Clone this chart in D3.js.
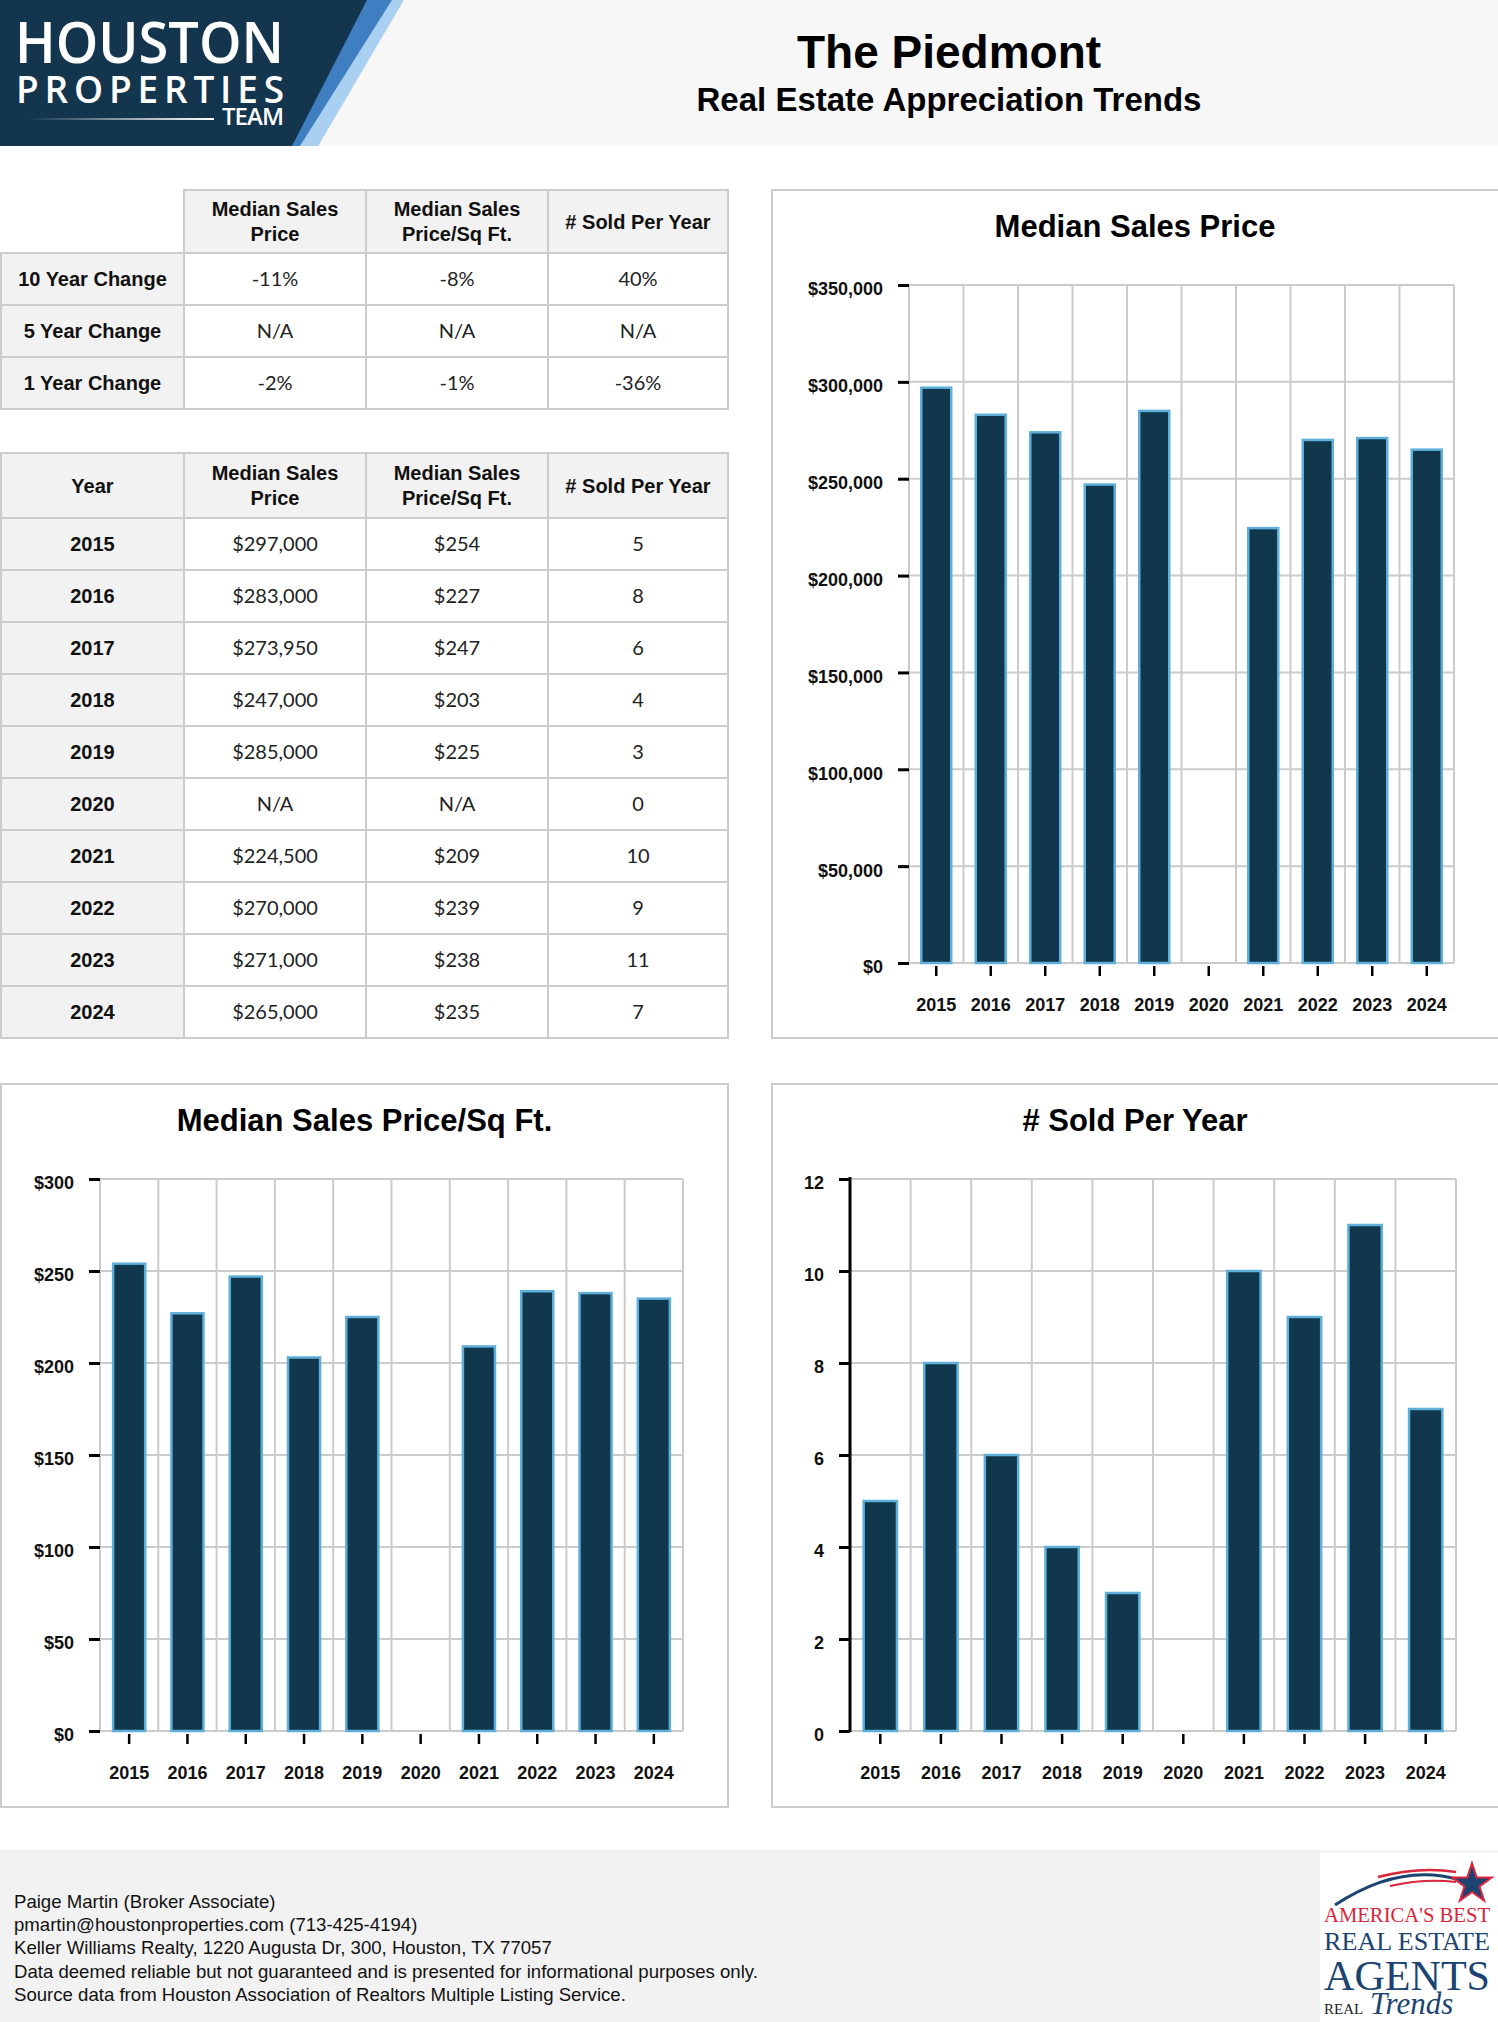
<!DOCTYPE html>
<html>
<head>
<meta charset="utf-8">
<script src="https://cdn.jsdelivr.net/npm/d3@7"></script>
<style>
  html, body { margin: 0; padding: 0; background: #fff; }
  svg { display: block; }
</style>
</head>
<body>
<svg id="page" width="1498" height="2022"></svg>
<script>
// data
const years = ["2015", "2016", "2017", "2018", "2019", "2020", "2021", "2022", "2023", "2024"];
const medianPrice = [297000, 283000, 273950, 247000, 285000, null, 224500, 270000, 271000, 265000];
const pricePerSqft = [254, 227, 247, 203, 225, null, 209, 239, 238, 235];
const soldPerYear = [5, 8, 6, 4, 3, 0, 10, 9, 11, 7];

const changeLabels = ["10 Year Change", "5 Year Change", "1 Year Change"];
const changePrice = ["-11%", "N/A", "-2%"];
const changeSqft = ["-8%", "N/A", "-1%"];
const changeSold = ["40%", "N/A", "-36%"];

const columnHeaders = [["Median Sales", "Price"], ["Median Sales", "Price/Sq Ft."], ["# Sold Per Year"]];

const footerLines = [
    "Paige Martin (Broker Associate)",
    "pmartin@houstonproperties.com (713-425-4194)",
    "Keller Williams Realty, 1220 Augusta Dr, 300, Houston, TX 77057",
    "Data deemed reliable but not guaranteed and is presented for informational purposes only.",
    "Source data from Houston Association of Realtors Multiple Listing Service."
];

const SANS = "'Liberation Sans', Arial, Helvetica, sans-serif";
const LATO = "Lato, 'Liberation Sans', sans-serif";
const SERIF = "'Liberation Serif', 'DejaVu Serif', serif";
const NAVY = "#11374d";
const BAR_EDGE = "#5eb0da";
const GRID = "#cbcbcb";

const svg = d3.select("#page");

// ---------- header band ----------
svg.append("rect").attr("x", 0).attr("y", 0).attr("width", 1498).attr("height", 146).attr("fill", "#f7f7f7");

// logo block with the two diagonal stripes
svg.append("polygon").attr("points", "0,0 404,0 318,146 0,146").attr("fill", "#a9d0f0");
svg.append("polygon").attr("points", "0,0 392,0 300,146 0,146").attr("fill", "#3f7fc1");
svg.append("polygon").attr("points", "0,0 367,0 292,146 0,146").attr("fill", "#13354d");
svg.append("polygon").attr("points", "300,146 318,146 352,88 340,90").attr("fill", "#a9d0f0");

let logo = svg.append("g").attr("fill", "#fff").attr("font-family", "'Open Sans', Lato, sans-serif");
logo.append("text").attr("x", 15).attr("y", 63).attr("font-size", 57).attr("font-weight", 600)
    .attr("textLength", 269).attr("lengthAdjust", "spacingAndGlyphs").text("HOUSTON");
logo.append("text").attr("x", 16).attr("y", 103).attr("font-size", 37).attr("font-weight", 600)
    .attr("textLength", 268).attr("lengthAdjust", "spacing").text("PROPERTIES");
logo.append("text").attr("x", 222).attr("y", 125).attr("font-size", 24).attr("font-weight", 600)
    .attr("textLength", 62).attr("lengthAdjust", "spacing").text("TEAM");

let grad = svg.append("defs").append("linearGradient").attr("id", "fadeLine");
grad.append("stop").attr("offset", "0%").attr("stop-color", "#fff").attr("stop-opacity", 0);
grad.append("stop").attr("offset", "100%").attr("stop-color", "#fff").attr("stop-opacity", 1);
svg.append("rect").attr("x", 26).attr("y", 118).attr("width", 188).attr("height", 2).attr("fill", "url(#fadeLine)");

svg.append("text").attr("x", 949).attr("y", 68).attr("text-anchor", "middle")
    .attr("font-family", SANS).attr("font-weight", "bold").attr("font-size", 46).attr("fill", "#000")
    .text("The Piedmont");
svg.append("text").attr("x", 949).attr("y", 111).attr("text-anchor", "middle")
    .attr("font-family", SANS).attr("font-weight", "bold").attr("font-size", 33).attr("fill", "#000")
    .text("Real Estate Appreciation Trends");

// ---------- tables ----------
const colEdges = [1, 184, 366, 548, 728];

/**
 * draws one grid table, rows = [[label, v1, v2, v3], ...]
 */
function drawTable(top, headerH, rowH, headLabel, rows) {
    let g = svg.append("g");
    let cells = [];
    // header row
    for (let c = 0; c < 4; c++) {
        let lines = c === 0 ? (headLabel ? [headLabel] : null) : columnHeaders[c - 1];
        cells.push({x: colEdges[c], y: top, w: colEdges[c + 1] - colEdges[c], h: headerH,
            fill: "#f2f2f2", lines: lines, bold: true, empty: lines === null});
    }
    rows.forEach((r, i) => {
        for (let c = 0; c < 4; c++)
            cells.push({x: colEdges[c], y: top + headerH + i * rowH, w: colEdges[c + 1] - colEdges[c], h: rowH,
                fill: c === 0 ? "#f2f2f2" : "#fff", lines: [r[c]], bold: c === 0});
    });

    g.selectAll("rect").data(cells.filter(d => !d.empty)).enter().append("rect")
        .attr("x", d => d.x).attr("y", d => d.y).attr("width", d => d.w).attr("height", d => d.h)
        .attr("fill", d => d.fill).attr("stroke", "#cccccc").attr("stroke-width", 2);

    cells.filter(d => !d.empty).forEach(d => {
        let n = d.lines.length;
        d.lines.forEach((t, k) => {
            g.append("text")
                .attr("x", d.x + d.w / 2)
                .attr("y", d.y + d.h / 2 + (k - (n - 1) / 2) * 25 + 7)
                .attr("text-anchor", "middle")
                .attr("font-family", d.bold ? SANS : LATO)
                .attr("font-weight", d.bold ? "bold" : "normal")
                .attr("font-size", 20)
                .attr("fill", d.bold ? "#111" : "#222")
                .text(t);
        });
    });
}

let fmtPrice = d3.format("$,");
let changeRows = changeLabels.map((l, i) => [l, changePrice[i], changeSqft[i], changeSold[i]]);
drawTable(190, 63, 52, null, changeRows);

let yearRows = years.map((y, i) => [
    y,
    medianPrice[i] === null ? "N/A" : fmtPrice(medianPrice[i]),
    pricePerSqft[i] === null ? "N/A" : fmtPrice(pricePerSqft[i]),
    String(soldPerYear[i])
]);
drawTable(453, 65, 52, "Year", yearRows);

// ---------- bar charts ----------
function drawChart(cfg) {
    let g = svg.append("g");
    g.append("rect").attr("x", cfg.panel[0]).attr("y", cfg.panel[1])
        .attr("width", cfg.panel[2]).attr("height", cfg.panel[3])
        .attr("fill", "#fff").attr("stroke", "#cccccc").attr("stroke-width", 2);
    g.append("text").attr("x", cfg.panel[0] + (Math.min(cfg.panel[2], 1498 - cfg.panel[0])) / 2)
        .attr("y", cfg.panel[1] + 47).attr("text-anchor", "middle")
        .attr("font-family", SANS).attr("font-weight", "bold").attr("font-size", 31).attr("fill", "#000")
        .text(cfg.title);

    let x = d3.scaleBand().domain(years).range([cfg.x0, cfg.x1]).padding(0);
    let y = d3.scaleLinear().domain([0, cfg.max]).range([cfg.y1, cfg.y0]);
    let ticks = d3.range(0, cfg.max + cfg.step / 2, cfg.step);

    // grid
    g.selectAll(".hgrid").data(ticks).enter().append("line")
        .attr("x1", cfg.x0).attr("x2", cfg.x1).attr("y1", d => y(d)).attr("y2", d => y(d))
        .attr("stroke", GRID).attr("stroke-width", 2);
    g.selectAll(".vgrid").data(years.map(d => x(d)).concat([cfg.x1])).enter().append("line")
        .attr("x1", d => d).attr("x2", d => d).attr("y1", cfg.y0).attr("y2", cfg.y1)
        .attr("stroke", GRID).attr("stroke-width", 2);

    // bars
    let bw = x.bandwidth() * 0.55;
    let data = years.map((d, i) => ({year: d, v: cfg.values[i]})).filter(d => d.v);
    g.selectAll(".bar").data(data).enter().append("rect")
        .attr("x", d => x(d.year) + (x.bandwidth() - bw) / 2)
        .attr("y", d => y(d.v))
        .attr("width", bw)
        .attr("height", d => y(0) - y(d.v))
        .attr("fill", NAVY).attr("stroke", BAR_EDGE).attr("stroke-width", 2.5);

    // y axis
    let ya = g.append("g").attr("transform", `translate(${cfg.x0},0)`)
        .call(d3.axisLeft(y).tickValues(ticks).tickFormat(cfg.fmt).tickSize(11).tickPadding(15));
    ya.select(".domain").remove();
    ya.selectAll(".tick line").attr("stroke", "#000").attr("stroke-width", 3);
    ya.selectAll("text").attr("font-family", SANS).attr("font-weight", "bold")
        .attr("font-size", 18).attr("fill", "#111").attr("dy", "0.55em");
    if (cfg.blackAxis)
        g.append("line").attr("x1", cfg.x0).attr("x2", cfg.x0).attr("y1", cfg.y0 - 2).attr("y2", cfg.y1 + 1)
            .attr("stroke", "#000").attr("stroke-width", 3);

    // x axis
    let xa = g.append("g").attr("transform", `translate(0,${cfg.y1 + 3})`)
        .call(d3.axisBottom(x).tickSize(10).tickPadding(22));
    xa.select(".domain").remove();
    xa.selectAll(".tick line").attr("stroke", "#000").attr("stroke-width", 2.5);
    xa.selectAll("text").attr("font-family", SANS).attr("font-weight", "bold")
        .attr("font-size", 18).attr("fill", "#111");
}

drawChart({title: "Median Sales Price", panel: [772, 190, 740, 848],
    x0: 909, x1: 1454, y0: 285, y1: 963, max: 350000, step: 50000,
    fmt: d3.format("$,"), values: medianPrice});
drawChart({title: "Median Sales Price/Sq Ft.", panel: [1, 1084, 727, 723],
    x0: 100, x1: 683, y0: 1179, y1: 1731, max: 300, step: 50,
    fmt: d => "$" + d, values: pricePerSqft});
drawChart({title: "# Sold Per Year", panel: [772, 1084, 740, 723],
    x0: 850, x1: 1456, y0: 1179, y1: 1731, max: 12, step: 2,
    fmt: d3.format("d"), values: soldPerYear, blackAxis: true});

// ---------- footer ----------
svg.append("rect").attr("x", 0).attr("y", 1850).attr("width", 1498).attr("height", 172).attr("fill", "#f2f2f2");
svg.append("g").selectAll("text").data(footerLines).enter().append("text")
    .attr("x", 14).attr("y", (d, i) => 1908 + i * 23.2)
    .attr("font-family", SANS).attr("font-size", 18.6).attr("fill", "#111")
    .text(d => d);

// award badge
let badge = svg.append("g");
badge.append("rect").attr("x", 1320).attr("y", 1853).attr("width", 178).attr("height", 169).attr("fill", "#fff");
badge.append("path").attr("d", "M1335,1905 Q1400,1862 1460,1880").attr("fill", "none")
    .attr("stroke", "#1b4472").attr("stroke-width", 3);
badge.append("path").attr("d", "M1378,1877 Q1420,1866 1456,1872").attr("fill", "none")
    .attr("stroke", "#d9263a").attr("stroke-width", 2.5);
badge.append("path").attr("d", "M1390,1886 Q1425,1878 1456,1882").attr("fill", "none")
    .attr("stroke", "#d9263a").attr("stroke-width", 2);
badge.append("path").attr("d", d3.symbol(d3.symbolStar, 480)())
    .attr("transform", "translate(1472,1884)")
    .attr("fill", "#1b4472").attr("stroke", "#d9263a").attr("stroke-width", 2);
badge.append("text").attr("x", 1324).attr("y", 1922).attr("font-family", SERIF).attr("font-size", 20)
    .attr("fill", "#d9263a").attr("textLength", 166).attr("lengthAdjust", "spacingAndGlyphs").text("AMERICA'S BEST");
badge.append("text").attr("x", 1324).attr("y", 1950).attr("font-family", SERIF).attr("font-size", 25)
    .attr("fill", "#1b4472").attr("textLength", 166).attr("lengthAdjust", "spacingAndGlyphs").text("REAL ESTATE");
badge.append("text").attr("x", 1324).attr("y", 1990).attr("font-family", SERIF).attr("font-size", 42)
    .attr("fill", "#1b4472").attr("textLength", 166).attr("lengthAdjust", "spacingAndGlyphs").text("AGENTS");
badge.append("text").attr("x", 1324).attr("y", 2014).attr("font-family", SERIF).attr("font-size", 15)
    .attr("fill", "#222").text("REAL");
badge.append("text").attr("x", 1370).attr("y", 2014).attr("font-family", SERIF).attr("font-style", "italic")
    .attr("font-size", 31).attr("fill", "#1b4472").text("Trends");
</script>
</body>
</html>
